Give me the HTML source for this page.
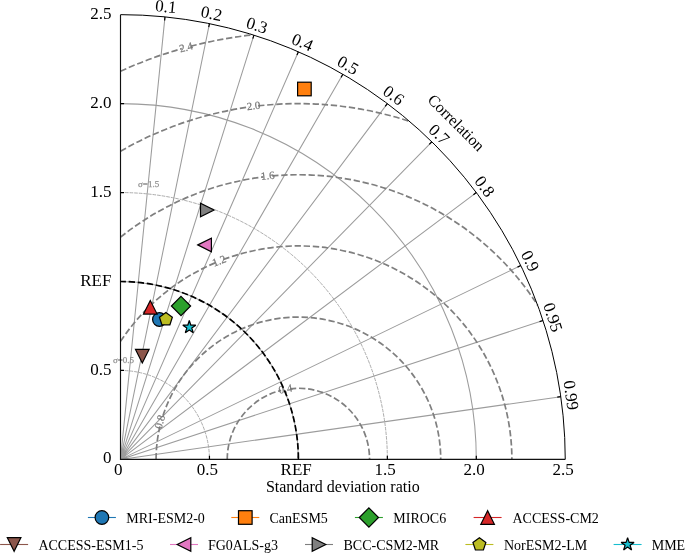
<!DOCTYPE html>
<html><head><meta charset="utf-8"><style>
html,body{margin:0;padding:0;background:#fff;width:685px;height:553px;overflow:hidden;font-family:"Liberation Serif";}
</style></head><body>
<svg width="685" height="553" viewBox="0 0 685 553" font-family="Liberation Serif" style="position:absolute;left:0;top:0;will-change:transform">
<defs><clipPath id="q"><path d="M120.50,459.40 L120.50,14.65 A444.75,444.75 0 0 1 565.25,459.40 Z"/></clipPath></defs>
<path d="M120.50,459.40L164.97,16.88M120.50,459.40L209.45,23.64M120.50,459.40L253.92,35.14M120.50,459.40L298.40,51.78M120.50,459.40L342.87,74.24M120.50,459.40L387.35,103.60M120.50,459.40L431.82,141.78M120.50,459.40L476.30,192.55M120.50,459.40L520.78,265.54M120.50,459.40L543.01,320.53M120.50,459.40L560.80,396.66" stroke="#9c9c9c" stroke-width="1.05" fill="none"/>
<path d="M120.50,281.50A177.90,177.90 0 0 1 298.40,459.40M120.50,103.60A355.80,355.80 0 0 1 476.30,459.40" stroke="#9c9c9c" stroke-width="1.05" fill="none"/>
<path d="M120.50,370.45A88.95,88.95 0 0 1 209.45,459.40M120.50,192.55A266.85,266.85 0 0 1 387.35,459.40" stroke="#a8a8a8" stroke-width="0.95" stroke-dasharray="3.6,1.0" fill="none"/>
<path d="M227.24,459.40A71.16,71.16 0 0 1 281.15,390.36" stroke="#7f7f7f" stroke-width="1.7" stroke-dasharray="6.35,2.75" stroke-dashoffset="0" fill="none"/>
<path d="M290.00,388.74A71.16,71.16 0 0 1 369.56,459.40" stroke="#7f7f7f" stroke-width="1.7" stroke-dasharray="6.35,2.75" stroke-dashoffset="0" fill="none"/>
<path d="M156.08,459.40A142.32,142.32 0 0 1 159.92,426.55" stroke="#7f7f7f" stroke-width="1.7" stroke-dasharray="6.35,2.75" stroke-dashoffset="0" fill="none"/>
<path d="M162.28,417.86A142.32,142.32 0 0 1 440.72,459.40" stroke="#7f7f7f" stroke-width="1.7" stroke-dasharray="6.35,2.75" stroke-dashoffset="-2.3" fill="none"/>
<path d="M120.50,341.39A213.48,213.48 0 0 1 215.09,262.85" stroke="#7f7f7f" stroke-width="1.7" stroke-dasharray="6.35,2.75" stroke-dashoffset="0" fill="none"/>
<path d="M223.45,259.51A213.48,213.48 0 0 1 511.88,459.40" stroke="#7f7f7f" stroke-width="1.7" stroke-dasharray="6.35,2.75" stroke-dashoffset="0" fill="none"/>
<path d="M120.50,237.20A284.64,284.64 0 0 1 263.24,176.94" stroke="#7f7f7f" stroke-width="1.7" stroke-dasharray="6.35,2.75" stroke-dashoffset="0" fill="none"/>
<path d="M272.19,175.97A284.64,284.64 0 0 1 537.68,305.23" stroke="#7f7f7f" stroke-width="1.7" stroke-dasharray="6.35,2.75" stroke-dashoffset="0" fill="none"/>
<path d="M120.50,151.27A355.80,355.80 0 0 1 249.17,107.02" stroke="#7f7f7f" stroke-width="1.7" stroke-dasharray="6.35,2.75" stroke-dashoffset="0" fill="none"/>
<path d="M258.10,105.89A355.80,355.80 0 0 1 409.59,121.42" stroke="#7f7f7f" stroke-width="1.7" stroke-dasharray="6.35,2.75" stroke-dashoffset="0" fill="none"/>
<path d="M120.50,71.27A426.96,426.96 0 0 1 181.79,48.67" stroke="#7f7f7f" stroke-width="1.7" stroke-dasharray="6.35,2.75" stroke-dashoffset="0" fill="none"/>
<path d="M190.47,46.31A426.96,426.96 0 0 1 253.04,34.86" stroke="#7f7f7f" stroke-width="1.7" stroke-dasharray="6.35,2.75" stroke-dashoffset="0" fill="none"/>
<text x="285.4" y="388.6" transform="rotate(-10.3 285.4 388.6)" font-size="11" fill="#767676" stroke="#767676" stroke-width="0.2" text-anchor="middle" dy="0.36em">0.4</text>
<text x="159.6" y="421.8" transform="rotate(-74.6 159.6 421.8)" font-size="11" fill="#767676" stroke="#767676" stroke-width="0.2" text-anchor="middle" dy="0.36em">0.8</text>
<text x="219" y="260.5" transform="rotate(-21.8 219 260.5)" font-size="11" fill="#767676" stroke="#767676" stroke-width="0.2" text-anchor="middle" dy="0.36em">1.2</text>
<text x="267.6" y="175.4" transform="rotate(-6.2 267.6 175.4)" font-size="11" fill="#767676" stroke="#767676" stroke-width="0.2" text-anchor="middle" dy="0.36em">1.6</text>
<text x="253.5" y="105.4" transform="rotate(-7.2 253.5 105.4)" font-size="11" fill="#767676" stroke="#767676" stroke-width="0.2" text-anchor="middle" dy="0.36em">2.0</text>
<text x="186" y="47" transform="rotate(-15.2 186 47)" font-size="11" fill="#767676" stroke="#767676" stroke-width="0.2" text-anchor="middle" dy="0.36em">2.4</text>
<text x="123.5" y="359.3" font-size="9" fill="#909090" stroke="#909090" stroke-width="0.25" text-anchor="middle" dy="0.36em">σ=0.5</text>
<text x="148.6" y="183.4" font-size="9" fill="#909090" stroke="#909090" stroke-width="0.25" text-anchor="middle" dy="0.36em">σ=1.5</text>
<path d="M120.50,281.50A177.90,177.90 0 0 1 298.40,459.40" stroke="#000" stroke-width="1.7" stroke-dasharray="6.35,2.75" stroke-dashoffset="0.9" fill="none"/>
<path d="M120.50,14.65L120.50,459.40L565.25,459.40" stroke="#111" stroke-width="1.15" fill="none"/>
<path d="M120.50,14.65A444.75,444.75 0 0 1 565.25,459.40" stroke="#000" stroke-width="1.0" fill="none"/>
<path d="M120.50,370.45h3.6M209.45,459.40v-3.6M120.50,281.50h3.6M298.40,459.40v-3.6M120.50,192.55h3.6M387.35,459.40v-3.6M120.50,103.60h3.6M476.30,459.40v-3.6M164.97,16.88L164.62,20.46M209.45,23.64L208.73,27.16M253.92,35.14L252.84,38.57M298.40,51.78L296.96,55.08M342.87,74.24L341.07,77.35M387.35,103.60L385.19,106.48M431.82,141.78L429.30,144.36M476.30,192.55L473.42,194.71M520.78,265.54L517.53,267.11M543.01,320.53L539.59,321.65M560.80,396.66L557.24,397.17" stroke="#000" stroke-width="1.2" fill="none"/>
<text x="111.4" y="18.70" font-size="17" text-anchor="end">2.5</text>
<text x="111.4" y="108.40" font-size="17" text-anchor="end">2.0</text>
<text x="111.4" y="197.35" font-size="17" text-anchor="end">1.5</text>
<text x="111.4" y="286.35" font-size="17" text-anchor="end">REF</text>
<text x="111.4" y="375.30" font-size="17" text-anchor="end">0.5</text>
<text x="111.4" y="463.35" font-size="17" text-anchor="end">0</text>
<text x="118.30" y="474.85" font-size="17" text-anchor="middle">0</text>
<text x="207.25" y="474.85" font-size="17" text-anchor="middle">0.5</text>
<text x="296.20" y="474.85" font-size="17" text-anchor="middle">REF</text>
<text x="385.15" y="474.85" font-size="17" text-anchor="middle">1.5</text>
<text x="474.10" y="474.85" font-size="17" text-anchor="middle">2.0</text>
<text x="563.05" y="474.85" font-size="17" text-anchor="middle">2.5</text>
<text x="342.8" y="492.1" font-size="16" text-anchor="middle">Standard deviation ratio</text>
<text x="166.03" y="6.38" transform="rotate(5.74 166.03 6.38)" font-size="17" text-anchor="middle" dy="0.34em">0.1</text>
<text x="211.56" y="13.30" transform="rotate(11.54 211.56 13.30)" font-size="17" text-anchor="middle" dy="0.34em">0.2</text>
<text x="257.09" y="25.07" transform="rotate(17.46 257.09 25.07)" font-size="17" text-anchor="middle" dy="0.34em">0.3</text>
<text x="302.62" y="42.11" transform="rotate(23.58 302.62 42.11)" font-size="17" text-anchor="middle" dy="0.34em">0.4</text>
<text x="348.15" y="65.10" transform="rotate(30.00 348.15 65.10)" font-size="17" text-anchor="middle" dy="0.34em">0.5</text>
<text x="393.68" y="95.16" transform="rotate(36.87 393.68 95.16)" font-size="17" text-anchor="middle" dy="0.34em">0.6</text>
<text x="439.21" y="134.25" transform="rotate(44.43 439.21 134.25)" font-size="17" text-anchor="middle" dy="0.34em">0.7</text>
<text x="484.74" y="186.22" transform="rotate(53.13 484.74 186.22)" font-size="17" text-anchor="middle" dy="0.34em">0.8</text>
<text x="530.27" y="260.94" transform="rotate(64.16 530.27 260.94)" font-size="17" text-anchor="middle" dy="0.34em">0.9</text>
<text x="553.04" y="317.23" transform="rotate(71.81 553.04 317.23)" font-size="17" text-anchor="middle" dy="0.34em">0.95</text>
<text x="571.25" y="395.17" transform="rotate(81.89 571.25 395.17)" font-size="17" text-anchor="middle" dy="0.34em">0.99</text>
<text x="455.88" y="123.12" transform="rotate(45 455.88 123.12)" font-size="16" text-anchor="middle" dy="0.3em">Correlation</text>
<circle cx="159.40" cy="319.50" r="6.80" fill="#1f77b4" stroke="#000" stroke-width="1.2" stroke-linejoin="miter"/>
<rect x="297.60" y="82.20" width="13.60" height="13.60" fill="#ff7f0e" stroke="#000" stroke-width="1.2" stroke-linejoin="miter"/>
<path d="M181.00,296.38L190.62,306.00L181.00,315.62L171.38,306.00Z" fill="#2ca02c" stroke="#000" stroke-width="1.2" stroke-linejoin="miter"/>
<path d="M150.30,300.50L143.50,314.10L157.10,314.10Z" fill="#d62728" stroke="#000" stroke-width="1.2" stroke-linejoin="miter"/>
<path d="M142.30,363.00L135.50,349.40L149.10,349.40Z" fill="#8c564b" stroke="#000" stroke-width="1.2" stroke-linejoin="miter"/>
<path d="M197.80,244.90L211.40,238.10L211.40,251.70Z" fill="#e377c2" stroke="#000" stroke-width="1.2" stroke-linejoin="miter"/>
<path d="M214.10,210.00L200.50,203.20L200.50,216.80Z" fill="#7f7f7f" stroke="#000" stroke-width="1.2" stroke-linejoin="miter"/>
<path d="M165.90,312.50L172.37,317.20L169.90,324.80L161.90,324.80L159.43,317.20Z" fill="#bcbd22" stroke="#000" stroke-width="1.2" stroke-linejoin="miter"/>
<path d="M189.30,320.50L190.83,325.20L195.77,325.20L191.77,328.10L193.30,332.80L189.30,329.90L185.30,332.80L186.83,328.10L182.83,325.20L187.77,325.20Z" fill="#17becf" stroke="#000" stroke-width="1.2" stroke-linejoin="bevel"/>
<path d="M87.90,517.50h28" stroke="#1f77b4" stroke-width="1.1"/>
<circle cx="101.90" cy="517.50" r="6.80" fill="#1f77b4" stroke="#000" stroke-width="1.2" stroke-linejoin="miter"/>
<text x="126.3" y="522.5" font-size="14">MRI-ESM2-0</text>
<path d="M231.30,517.50h28" stroke="#ff7f0e" stroke-width="1.1"/>
<rect x="238.50" y="510.70" width="13.60" height="13.60" fill="#ff7f0e" stroke="#000" stroke-width="1.2" stroke-linejoin="miter"/>
<text x="269.5" y="522.5" font-size="14">CanESM5</text>
<path d="M354.90,517.50h28" stroke="#2ca02c" stroke-width="1.1"/>
<path d="M368.90,507.88L378.52,517.50L368.90,527.12L359.28,517.50Z" fill="#2ca02c" stroke="#000" stroke-width="1.2" stroke-linejoin="miter"/>
<text x="393.3" y="522.5" font-size="14">MIROC6</text>
<path d="M473.60,517.50h28" stroke="#d62728" stroke-width="1.1"/>
<path d="M487.60,510.70L480.80,524.30L494.40,524.30Z" fill="#d62728" stroke="#000" stroke-width="1.2" stroke-linejoin="miter"/>
<text x="512.5" y="522.5" font-size="14">ACCESS-CM2</text>
<path d="M0.10,544.50h28" stroke="#8c564b" stroke-width="1.1"/>
<path d="M14.10,551.30L7.30,537.70L20.90,537.70Z" fill="#8c564b" stroke="#000" stroke-width="1.2" stroke-linejoin="miter"/>
<text x="38.4" y="549.5" font-size="14">ACCESS-ESM1-5</text>
<path d="M170.00,544.50h28" stroke="#e377c2" stroke-width="1.1"/>
<path d="M177.20,544.50L190.80,537.70L190.80,551.30Z" fill="#e377c2" stroke="#000" stroke-width="1.2" stroke-linejoin="miter"/>
<text x="207.9" y="549.5" font-size="14">FG0ALS-g3</text>
<path d="M305.00,544.50h28" stroke="#7f7f7f" stroke-width="1.1"/>
<path d="M325.80,544.50L312.20,537.70L312.20,551.30Z" fill="#7f7f7f" stroke="#000" stroke-width="1.2" stroke-linejoin="miter"/>
<text x="343.5" y="549.5" font-size="14">BCC-CSM2-MR</text>
<path d="M465.40,544.50h28" stroke="#bcbd22" stroke-width="1.1"/>
<path d="M479.40,537.70L485.87,542.40L483.40,550.00L475.40,550.00L472.93,542.40Z" fill="#bcbd22" stroke="#000" stroke-width="1.2" stroke-linejoin="miter"/>
<text x="504.0" y="549.5" font-size="14">NorESM2-LM</text>
<path d="M613.60,544.50h28" stroke="#17becf" stroke-width="1.1"/>
<path d="M627.60,537.70L629.13,542.40L634.07,542.40L630.07,545.30L631.60,550.00L627.60,547.10L623.60,550.00L625.13,545.30L621.13,542.40L626.07,542.40Z" fill="#17becf" stroke="#000" stroke-width="1.2" stroke-linejoin="bevel"/>
<text x="651.7" y="549.5" font-size="14">MME</text>
</svg>
</body></html>
